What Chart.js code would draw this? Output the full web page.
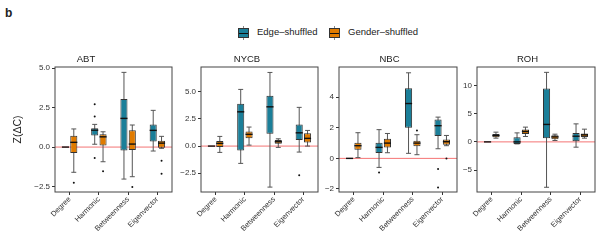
<!DOCTYPE html>
<html>
<head>
<meta charset="utf-8">
<script src="https://cdn.jsdelivr.net/npm/chart.js@4.4.1/dist/chart.umd.min.js"></script>
<style>
body { margin: 0; width: 600px; height: 240px; position: relative; background: #fff; overflow: hidden;
       font-family: "Liberation Sans", Arial, sans-serif; color: #222; }
.panel { position: absolute; top: 50px; height: 190px; }
#tag { position: absolute; left: 5px; top: 6px; font-weight: bold; font-size: 12px; }
.key { position: absolute; top: 28px; width: 9px; height: 8px; border: 1px solid #333; }
.key::before { content: ""; position: absolute; left: 4px; width: 1px; top: -3px; height: 14px; background: #888; z-index: -1; }
.key::after { content: ""; position: absolute; left: 0; right: 0; top: 3.5px; height: 1px; background: #111; }
.ktext { position: absolute; top: 26px; font-size: 9.5px; color: #222; }
</style>
</head>
<body>
<div id="tag">b</div>
<div class="key" style="left:238px;background:#1b7f99"></div>
<div class="ktext" style="left:257px">Edge–shuffled</div>
<div class="key" style="left:329px;background:#e07b00"></div>
<div class="ktext" style="left:348px">Gender–shuffled</div>

<div class="panel" style="left:0;width:176px"><canvas id="c1"></canvas></div>
<div class="panel" style="left:176px;width:146px"><canvas id="c2"></canvas></div>
<div class="panel" style="left:322px;width:138px"><canvas id="c3"></canvas></div>
<div class="panel" style="left:460px;width:140px"><canvas id="c4"></canvas></div>

<script>
const categories = ["Degree", "Harmonic", "Betweenness", "Eigenvector"];

// each box: [min, q1, median, q3, max]
const abtEdge   = [[0, 0, 0, 0, 0], [0.18, 0.73, 1.07, 1.2, 1.44], [-2.03, -0.21, 1.82, 3.05, 4.74], [-0.25, 0.36, 1.06, 1.44, 2.33]];
const abtGender = [[-1.6, -0.38, 0.3, 0.72, 1.15], [-0.93, 0.1, 0.65, 0.82, 0.97], [-1.88, -0.19, 0.19, 1.06, 1.4], [-0.08, -0.04, 0.25, 0.4, 0.68]];
const abtEdgeOut   = [[], [2.71, 1.94, -0.7], [], []];
const abtGenderOut = [[-2.26], [-1.54], [-2.54], [-0.87, -1.69]];

const nycbEdge   = [[0, 0, 0, 0, 0], [-1.59, -0.4, 3.15, 3.89, 5.21], [-3.77, 1.13, 3.61, 4.62, 6.77], [-0.55, 0.55, 1.22, 1.99, 3.56]];
const nycbGender = [[-0.58, -0.09, 0.25, 0.46, 0.89], [0.09, 0.71, 1.08, 1.35, 1.75], [-0.12, 0.21, 0.4, 0.55, 0.67], [0, 0.34, 0.71, 1.17, 1.44]];
const nycbEdgeOut   = [[], [], [], [-2.69]];
const nycbGenderOut = [[], [], [], []];

const nbcEdge   = [[0, 0, 0, 0, 0], [-0.59, 0.35, 0.72, 1.03, 1.88], [0.33, 2.01, 3.59, 4.59, 5.6], [0.63, 1.46, 2.14, 2.55, 2.7]];
const nbcGender = [[0.05, 0.57, 0.83, 1.03, 1.68], [0.37, 0.72, 1.0, 1.29, 1.63], [0.24, 0.8, 1.0, 1.16, 1.55], [0.83, 0.9, 1.09, 1.24, 1.5]];
const nbcEdgeOut   = [[], [-0.92], [], [-0.7, -1.9]];
const nbcGenderOut = [[], [], [1.83], [0.0]];

const rohEdge   = [[0, 0, 0, 0, 0], [-0.36, -0.36, 0, 0.84, 1.6], [-8.06, 0.66, 3.1, 9.5, 12.35], [-0.94, 0.12, 1.01, 1.6, 3.2]];
const rohGender = [[0.66, 0.84, 1.14, 1.42, 1.73], [0.96, 1.42, 1.85, 2.2, 2.62], [0.25, 0.48, 0.89, 1.19, 1.37], [0.66, 0.89, 1.25, 1.49, 2.26]];
const rohEdgeOut   = [[], [], [], []];
const rohGenderOut = [[], [], [], []];

const abtTicks  = [-2.5, 0, 2.5, 5];
const nycbTicks = [-2.5, 0, 2.5, 5];
const nbcTicks  = [-2, 0, 2, 4];
const rohTicks  = [-5, 0, 5, 10];

const FONT = "Liberation Sans";
const TEAL = "#1b7f99";
const ORANGE = "#e07b00";

// whiskers, medians, outliers, zero line and frame
const boxPlugin = {
    id: "boxes",
    beforeDatasetsDraw(chart) {
        const ctx = chart.ctx;
        const area = chart.chartArea;
        const y = chart.scales.y;
        ctx.save();
        const y0 = y.getPixelForValue(0);
        ctx.strokeStyle = "rgba(240,70,70,0.75)";
        ctx.lineWidth = 1;
        ctx.beginPath();
        ctx.moveTo(area.left, y0);
        ctx.lineTo(area.right, y0);
        ctx.stroke();

        chart.data.datasets.forEach((ds, i) => {
            chart.getDatasetMeta(i).data.forEach((bar, j) => {
                const s = ds.stats[j];
                if (s[0] === s[4]) return;
                const p = bar.getProps(["x", "width"], true);
                const top = y.getPixelForValue(s[4]);
                const bot = y.getPixelForValue(s[0]);
                const cw = p.width * 0.35;
                ctx.strokeStyle = "#555";
                ctx.lineWidth = 1;
                ctx.beginPath();
                ctx.moveTo(p.x, top); ctx.lineTo(p.x, bot);
                ctx.moveTo(p.x - cw, top); ctx.lineTo(p.x + cw, top);
                ctx.moveTo(p.x - cw, bot); ctx.lineTo(p.x + cw, bot);
                ctx.stroke();
            });
        });
        ctx.restore();
    },
    afterDatasetsDraw(chart) {
        const ctx = chart.ctx;
        const area = chart.chartArea;
        const y = chart.scales.y;
        ctx.save();
        chart.data.datasets.forEach((ds, i) => {
            chart.getDatasetMeta(i).data.forEach((bar, j) => {
                const s = ds.stats[j];
                const p = bar.getProps(["x", "width"], true);
                const ym = y.getPixelForValue(s[2]);
                ctx.strokeStyle = "#111";
                ctx.lineWidth = 1.4;
                ctx.beginPath();
                ctx.moveTo(p.x - p.width / 2, ym);
                ctx.lineTo(p.x + p.width / 2, ym);
                ctx.stroke();
                ctx.fillStyle = "#111";
                ds.outliers[j].forEach(v => {
                    ctx.beginPath();
                    ctx.arc(p.x, y.getPixelForValue(v), 1, 0, Math.PI * 2);
                    ctx.fill();
                });
            });
        });
        ctx.strokeStyle = "#444";
        ctx.lineWidth = 1;
        ctx.strokeRect(area.left, area.top, area.right - area.left, area.bottom - area.top);
        ctx.restore();
    }
};

function makePanel(id, title, edge, gender, edgeOut, genderOut, ticks, yMin, yMax, axisWidth, padRight, decimals, showYTitle) {
    const series = (label, stats, outliers, color) => ({
        label: label,
        data: stats.map(s => [s[1], s[3]]),
        stats: stats,
        outliers: outliers,
        backgroundColor: color,
        borderColor: "#333",
        borderWidth: 1,
        borderSkipped: false,
        categoryPercentage: 0.57,
        barPercentage: 0.85
    });

    return new Chart(document.getElementById(id), {
        type: "bar",
        data: {
            labels: categories,
            datasets: [
                series("Edge–shuffled", edge, edgeOut, TEAL),
                series("Gender–shuffled", gender, genderOut, ORANGE)
            ]
        },
        options: {
            responsive: true,
            maintainAspectRatio: false,
            animation: false,
            layout: { padding: { left: 0, right: padRight, top: 0, bottom: 0 } },
            plugins: {
                legend: { display: false },
                tooltip: { enabled: false },
                title: {
                    display: true,
                    text: title,
                    color: "#222",
                    font: { family: FONT, size: 9.5, weight: "normal", lineHeight: "11px" },
                    padding: { top: 4, bottom: 2 }
                }
            },
            scales: {
                x: {
                    type: "category",
                    offset: true,
                    afterFit: s => { s.height = 48; },
                    grid: { offset: false, drawOnChartArea: false, drawTicks: true, tickLength: 3, color: "#333" },
                    border: { display: false },
                    ticks: {
                        autoSkip: false, minRotation: 45, maxRotation: 45, padding: 0,
                        color: "#333", font: { family: FONT, size: 7.5 }
                    }
                },
                y: {
                    min: yMin,
                    max: yMax,
                    afterFit: s => { s.width = axisWidth; },
                    afterBuildTicks: s => { s.ticks = ticks.map(v => ({ value: v })); },
                    grid: { drawOnChartArea: false, drawTicks: true, tickLength: 3, color: "#333" },
                    border: { display: false },
                    ticks: {
                        padding: 2, color: "#333", font: { family: FONT, size: 8 },
                        callback: v => v.toFixed(decimals).replace("-", "−")
                    },
                    title: {
                        display: showYTitle,
                        text: "Z(ΔC)",
                        color: "#222",
                        font: { family: FONT, size: 10.5 },
                        padding: { top: 12, bottom: 0 }
                    }
                }
            }
        },
        plugins: [boxPlugin]
    });
}

makePanel("c1", "ABT", abtEdge, abtGender, abtEdgeOut, abtGenderOut, abtTicks, -2.85, 5.08, 55, 4, 1, true);
makePanel("c2", "NYCB", nycbEdge, nycbGender, nycbEdgeOut, nycbGenderOut, nycbTicks, -4.22, 7.27, 25, 4, 1, false);
makePanel("c3", "NBC", nbcEdge, nbcGender, nbcEdgeOut, nbcGenderOut, nbcTicks, -2.2, 5.98, 17, 3, 0, false);
makePanel("c4", "ROH", rohEdge, rohGender, rohEdgeOut, rohGenderOut, rohTicks, -8.9, 13.3, 17, 5, 0, false);
</script>
</body>
</html>
